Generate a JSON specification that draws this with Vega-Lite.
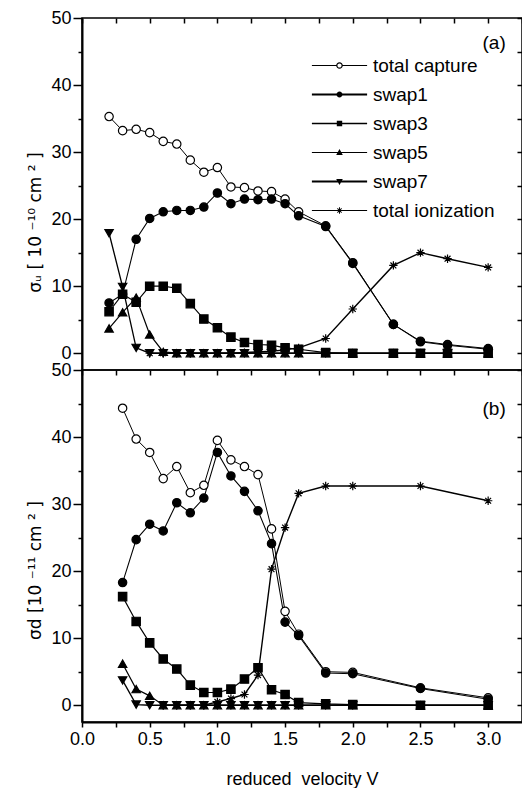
{
"$schema": "https://vega.github.io/schema/vega-lite/v6.json",
"autosize": {"type": "pad"},
"padding": {"left": 26, "top": 8, "right": 0, "bottom": 5},
"background": "white",
"spacing": 0,
"bounds": "flush",
"resolve": {"scale": {"shape": "independent"}, "legend": {"shape": "independent", "fill": "independent"}},
"config": {
  "font": "Liberation Sans",
  "view": {"stroke": "black", "strokeWidth": 1.5},
  "axis": {"labelFont": "Liberation Sans", "titleFont": "Liberation Sans", "labelFontSize": 18, "titleFontSize": 18, "titleFontWeight": "normal", "labelColor": "black", "titleColor": "black", "tickColor": "black", "domainColor": "black", "grid": false}
},
"datasets": {
"a": [
{"series":"total capture","v":0.2,"s":35.3},{"series":"total capture","v":0.3,"s":33.2},{"series":"total capture","v":0.4,"s":33.4},{"series":"total capture","v":0.5,"s":32.9},{"series":"total capture","v":0.6,"s":31.6},{"series":"total capture","v":0.7,"s":31.2},{"series":"total capture","v":0.8,"s":28.8},{"series":"total capture","v":0.9,"s":27.0},{"series":"total capture","v":1.0,"s":27.7},{"series":"total capture","v":1.1,"s":24.8},{"series":"total capture","v":1.2,"s":24.7},{"series":"total capture","v":1.3,"s":24.2},{"series":"total capture","v":1.4,"s":24.1},{"series":"total capture","v":1.5,"s":23.0},{"series":"total capture","v":1.6,"s":21.1},{"series":"total capture","v":1.8,"s":19.0},{"series":"total capture","v":2.0,"s":13.5},{"series":"total capture","v":2.3,"s":4.3},{"series":"total capture","v":2.5,"s":1.8},{"series":"total capture","v":2.7,"s":1.3},{"series":"total capture","v":3.0,"s":0.7},
{"series":"swap1","v":0.2,"s":7.5},{"series":"swap1","v":0.3,"s":8.8},{"series":"swap1","v":0.4,"s":17.0},{"series":"swap1","v":0.5,"s":20.1},{"series":"swap1","v":0.6,"s":21.1},{"series":"swap1","v":0.7,"s":21.3},{"series":"swap1","v":0.8,"s":21.3},{"series":"swap1","v":0.9,"s":21.8},{"series":"swap1","v":1.0,"s":23.9},{"series":"swap1","v":1.1,"s":22.3},{"series":"swap1","v":1.2,"s":23.0},{"series":"swap1","v":1.3,"s":22.9},{"series":"swap1","v":1.4,"s":23.0},{"series":"swap1","v":1.5,"s":22.3},{"series":"swap1","v":1.6,"s":20.5},{"series":"swap1","v":1.8,"s":18.9},{"series":"swap1","v":2.0,"s":13.4},{"series":"swap1","v":2.3,"s":4.3},{"series":"swap1","v":2.5,"s":1.7},{"series":"swap1","v":2.7,"s":1.2},{"series":"swap1","v":3.0,"s":0.6},
{"series":"swap3","v":0.2,"s":6.2},{"series":"swap3","v":0.3,"s":8.8},{"series":"swap3","v":0.4,"s":7.6},{"series":"swap3","v":0.5,"s":10.0},{"series":"swap3","v":0.6,"s":10.0},{"series":"swap3","v":0.7,"s":9.7},{"series":"swap3","v":0.8,"s":7.4},{"series":"swap3","v":0.9,"s":5.1},{"series":"swap3","v":1.0,"s":3.8},{"series":"swap3","v":1.1,"s":2.4},{"series":"swap3","v":1.2,"s":1.6},{"series":"swap3","v":1.3,"s":1.3},{"series":"swap3","v":1.4,"s":1.2},{"series":"swap3","v":1.5,"s":0.8},{"series":"swap3","v":1.6,"s":0.6},{"series":"swap3","v":1.8,"s":0.1},{"series":"swap3","v":2.0,"s":0},{"series":"swap3","v":2.3,"s":0},{"series":"swap3","v":2.5,"s":0},{"series":"swap3","v":2.7,"s":0},{"series":"swap3","v":3.0,"s":0},
{"series":"swap5","v":0.2,"s":3.7},{"series":"swap5","v":0.3,"s":6.1},{"series":"swap5","v":0.4,"s":8.3},{"series":"swap5","v":0.5,"s":2.8},{"series":"swap5","v":0.6,"s":0.2},{"series":"swap5","v":0.7,"s":0},{"series":"swap5","v":0.8,"s":0},{"series":"swap5","v":0.9,"s":0},{"series":"swap5","v":1.0,"s":0},{"series":"swap5","v":1.1,"s":0},{"series":"swap5","v":1.2,"s":0},{"series":"swap5","v":1.3,"s":0},{"series":"swap5","v":1.4,"s":0},{"series":"swap5","v":1.5,"s":0},{"series":"swap5","v":1.6,"s":0},{"series":"swap5","v":1.8,"s":0},{"series":"swap5","v":2.0,"s":0},{"series":"swap5","v":2.3,"s":0},{"series":"swap5","v":2.5,"s":0},{"series":"swap5","v":2.7,"s":0},{"series":"swap5","v":3.0,"s":0},
{"series":"swap7","v":0.2,"s":17.9},{"series":"swap7","v":0.3,"s":9.9},{"series":"swap7","v":0.4,"s":0.8},{"series":"swap7","v":0.5,"s":0},{"series":"swap7","v":0.6,"s":0},{"series":"swap7","v":0.7,"s":0},{"series":"swap7","v":0.8,"s":0},{"series":"swap7","v":0.9,"s":0},{"series":"swap7","v":1.0,"s":0},{"series":"swap7","v":1.1,"s":0},{"series":"swap7","v":1.2,"s":0},{"series":"swap7","v":1.3,"s":0},{"series":"swap7","v":1.4,"s":0},{"series":"swap7","v":1.5,"s":0},{"series":"swap7","v":1.6,"s":0},{"series":"swap7","v":1.8,"s":0},{"series":"swap7","v":2.0,"s":0},{"series":"swap7","v":2.3,"s":0},{"series":"swap7","v":2.5,"s":0},{"series":"swap7","v":2.7,"s":0},{"series":"swap7","v":3.0,"s":0},
{"series":"total ionization","v":0.5,"s":0},{"series":"total ionization","v":0.6,"s":0},{"series":"total ionization","v":0.7,"s":0},{"series":"total ionization","v":0.8,"s":0},{"series":"total ionization","v":0.9,"s":0},{"series":"total ionization","v":1.0,"s":0},{"series":"total ionization","v":1.1,"s":0},{"series":"total ionization","v":1.2,"s":0.1},{"series":"total ionization","v":1.3,"s":0.2},{"series":"total ionization","v":1.4,"s":0.3},{"series":"total ionization","v":1.5,"s":0.5},{"series":"total ionization","v":1.6,"s":0.8},{"series":"total ionization","v":1.8,"s":2.2},{"series":"total ionization","v":2.0,"s":6.6},{"series":"total ionization","v":2.3,"s":13.1},{"series":"total ionization","v":2.5,"s":15.0},{"series":"total ionization","v":2.7,"s":14.1},{"series":"total ionization","v":3.0,"s":12.8}
],
"b": [
{"series":"total capture","v":0.3,"s":44.3},{"series":"total capture","v":0.4,"s":39.7},{"series":"total capture","v":0.5,"s":37.7},{"series":"total capture","v":0.6,"s":33.8},{"series":"total capture","v":0.7,"s":35.6},{"series":"total capture","v":0.8,"s":31.7},{"series":"total capture","v":0.9,"s":32.8},{"series":"total capture","v":1.0,"s":39.5},{"series":"total capture","v":1.1,"s":36.6},{"series":"total capture","v":1.2,"s":35.6},{"series":"total capture","v":1.3,"s":34.4},{"series":"total capture","v":1.4,"s":26.3},{"series":"total capture","v":1.5,"s":14.0},{"series":"total capture","v":1.6,"s":10.6},{"series":"total capture","v":1.8,"s":5.0},{"series":"total capture","v":2.0,"s":4.9},{"series":"total capture","v":2.5,"s":2.6},{"series":"total capture","v":3.0,"s":1.1},
{"series":"swap1","v":0.3,"s":18.3},{"series":"swap1","v":0.4,"s":24.7},{"series":"swap1","v":0.5,"s":27.0},{"series":"swap1","v":0.6,"s":26.0},{"series":"swap1","v":0.7,"s":30.2},{"series":"swap1","v":0.8,"s":28.7},{"series":"swap1","v":0.9,"s":30.9},{"series":"swap1","v":1.0,"s":37.7},{"series":"swap1","v":1.1,"s":34.2},{"series":"swap1","v":1.2,"s":31.9},{"series":"swap1","v":1.3,"s":29.0},{"series":"swap1","v":1.4,"s":24.1},{"series":"swap1","v":1.5,"s":12.4},{"series":"swap1","v":1.6,"s":10.4},{"series":"swap1","v":1.8,"s":4.8},{"series":"swap1","v":2.0,"s":4.7},{"series":"swap1","v":2.5,"s":2.5},{"series":"swap1","v":3.0,"s":0.9},
{"series":"swap3","v":0.3,"s":16.2},{"series":"swap3","v":0.4,"s":12.5},{"series":"swap3","v":0.5,"s":9.3},{"series":"swap3","v":0.6,"s":6.9},{"series":"swap3","v":0.7,"s":5.4},{"series":"swap3","v":0.8,"s":3.0},{"series":"swap3","v":0.9,"s":1.9},{"series":"swap3","v":1.0,"s":1.9},{"series":"swap3","v":1.1,"s":2.4},{"series":"swap3","v":1.2,"s":3.9},{"series":"swap3","v":1.3,"s":5.6},{"series":"swap3","v":1.4,"s":2.3},{"series":"swap3","v":1.5,"s":1.6},{"series":"swap3","v":1.6,"s":0.4},{"series":"swap3","v":1.8,"s":0.2},{"series":"swap3","v":2.0,"s":0.1},{"series":"swap3","v":2.5,"s":0},{"series":"swap3","v":3.0,"s":0},
{"series":"swap5","v":0.3,"s":6.2},{"series":"swap5","v":0.4,"s":2.4},{"series":"swap5","v":0.5,"s":1.4},{"series":"swap5","v":0.6,"s":0},{"series":"swap5","v":0.7,"s":0},{"series":"swap5","v":0.8,"s":0},{"series":"swap5","v":0.9,"s":0},{"series":"swap5","v":1.0,"s":0},{"series":"swap5","v":1.1,"s":0},{"series":"swap5","v":1.2,"s":0},{"series":"swap5","v":1.3,"s":0},{"series":"swap5","v":1.4,"s":0},{"series":"swap5","v":1.5,"s":0},{"series":"swap5","v":1.6,"s":0},{"series":"swap5","v":1.8,"s":0},{"series":"swap5","v":2.0,"s":0},{"series":"swap5","v":2.5,"s":0},{"series":"swap5","v":3.0,"s":0},
{"series":"swap7","v":0.3,"s":3.7},{"series":"swap7","v":0.4,"s":0.1},{"series":"swap7","v":0.5,"s":0},{"series":"swap7","v":0.6,"s":0},{"series":"swap7","v":0.7,"s":0},{"series":"swap7","v":0.8,"s":0},{"series":"swap7","v":0.9,"s":0},{"series":"swap7","v":1.0,"s":0},{"series":"swap7","v":1.1,"s":0},{"series":"swap7","v":1.2,"s":0},{"series":"swap7","v":1.3,"s":0},{"series":"swap7","v":1.4,"s":0},{"series":"swap7","v":1.5,"s":0},{"series":"swap7","v":1.6,"s":0},{"series":"swap7","v":1.8,"s":0},{"series":"swap7","v":2.0,"s":0},{"series":"swap7","v":2.5,"s":0},{"series":"swap7","v":3.0,"s":0},
{"series":"total ionization","v":0.6,"s":0},{"series":"total ionization","v":0.7,"s":0},{"series":"total ionization","v":0.8,"s":0},{"series":"total ionization","v":0.9,"s":0},{"series":"total ionization","v":1.0,"s":0.5},{"series":"total ionization","v":1.1,"s":1.0},{"series":"total ionization","v":1.2,"s":1.6},{"series":"total ionization","v":1.3,"s":4.5},{"series":"total ionization","v":1.4,"s":20.3},{"series":"total ionization","v":1.5,"s":26.5},{"series":"total ionization","v":1.6,"s":31.6},{"series":"total ionization","v":1.8,"s":32.7},{"series":"total ionization","v":2.0,"s":32.7},{"series":"total ionization","v":2.5,"s":32.7},{"series":"total ionization","v":3.0,"s":30.5}
]
},
"vconcat": [
{
  "width": 440, "height": 352,
  "layer": [
    {
      "data": {"name": "a"},
      "mark": {"type": "line", "color": "black"},
      "encoding": {
        "x": {"field": "v", "type": "quantitative", "scale": {"domain": [0, 3.25], "nice": false, "zero": false}, "axis": null},
        "y": {"field": "s", "type": "quantitative", "scale": {"domain": [-2.5, 50], "nice": false, "zero": false},
              "axis": {"orient": "left", "values": [0,5,10,15,20,25,30,35,40,45,50], "labelExpr": "datum.value % 10 === 0 ? datum.label : ''", "tickSize": {"condition": {"test": "datum.value % 10 === 0", "value": 9}, "value": 4}, "tickWidth": 1.5, "labelPadding": 2, "domainWidth": 2, "title": "σᵤ [ 10 ⁻¹⁰ cm ² ]", "titleFont": "DejaVu Sans", "titleFontSize": 17, "titlePadding": 6, "titleY": 204}},
        "detail": {"field": "series"},
        "strokeWidth": {"field": "series", "type": "nominal", "scale": {"domain": ["total capture","swap1","swap3","swap5","swap7","total ionization"], "range": [1, 1.4, 1.2, 1, 1.3, 1]}, "legend": null}
      }
    },
    {
      "data": {"name": "a"},
      "mark": {"type": "point", "stroke": "black", "strokeWidth": 1.2, "size": 70, "opacity": 1},
      "encoding": {
        "x": {"field": "v", "type": "quantitative", "scale": {"domain": [0, 3.25], "nice": false, "zero": false}, "axis": null},
        "y": {"field": "s", "type": "quantitative", "scale": {"domain": [-2.5, 50], "nice": false, "zero": false}, "axis": null},
        "shape": {"field": "series", "type": "nominal", "scale": {"domain": ["total capture","swap1","swap3","swap5","swap7","total ionization"], "range": ["circle","circle","square","triangle-up","triangle-down","M-1,0H1M0,-1V1M-0.7,-0.7L0.7,0.7M-0.7,0.7L0.7,-0.7"]}, "legend": null},
        "fill": {"field": "series", "type": "nominal", "scale": {"domain": ["total capture","swap1","swap3","swap5","swap7","total ionization"], "range": ["white","black","black","black","black","black"]}, "legend": null}
      }
    },
    {
      "data": {"name": "a"},
      "mark": {"type": "point", "filled": true, "color": "black", "size": 36, "opacity": 0},
      "encoding": {
        "x": {"field": "v", "type": "quantitative", "scale": {"domain": [0, 3.25], "nice": false, "zero": false}, "axis": null},
        "y": {"field": "s", "type": "quantitative", "scale": {"domain": [-2.5, 50], "nice": false, "zero": false}, "axis": null},
        "shape": {"field": "series", "type": "nominal", "sort": null,
          "scale": {"domain": ["total capture","swap1","swap3","swap5","swap7","total ionization"],
                    "range": ["M-9.2,-0.17H-1.05V0.17H-9.2ZM1.05,-0.17H9.2V0.17H1.05ZM-1.1,0A1.1,1.1 0 1,1 1.1,0A1.1,1.1 0 1,1 -1.1,0ZM-0.7,0A0.7,0.7 0 1,0 0.7,0A0.7,0.7 0 1,0 -0.7,0Z",
                              "M-9.2,-0.3H9.2V0.3H-9.2ZM-1,0A1,1 0 1,1 1,0A1,1 0 1,1 -1,0Z",
                              "M-9.2,-0.22H9.2V0.22H-9.2ZM-0.9,-0.9H0.9V0.9H-0.9Z",
                              "M-9.2,-0.17H9.2V0.17H-9.2ZM0,-1.15L1.1,0.85H-1.1Z",
                              "M-9.2,-0.3H9.2V0.3H-9.2ZM0,1.15L-1.1,-0.85H1.1Z",
                              "M-9.2,-0.17H9.2V0.17H-9.2ZM-0.16,-1.1H0.16V1.1H-0.16ZM-0.601,-0.813L0.813,0.601L0.601,0.813L-0.813,-0.601ZM-0.813,0.601L0.601,-0.813L0.813,-0.601L-0.601,0.813Z"]},
          "legend": {"orient": "none", "legendX": 248, "legendY": 38, "title": null, "padding": 0, "symbolSize": 36, "symbolOpacity": 1, "symbolFillColor": "black", "symbolStrokeColor": "black", "symbolStrokeWidth": 0, "labelFontSize": 19, "labelFont": "Liberation Sans", "labelColor": "black", "labelOffset": 24, "rowPadding": 9,
            "labelExpr": "datum.value === 'total ionization' ? '\u00a0total ionization' : datum.label"}}
      }
    },
    {
      "data": {"values": [{"label": "(a)"}]},
      "mark": {"type": "text", "fontSize": 19, "font": "Liberation Sans", "align": "right", "baseline": "middle", "color": "black"},
      "encoding": {
        "x": {"datum": 3.13, "type": "quantitative", "scale": {"domain": [0, 3.25], "nice": false, "zero": false}, "axis": null},
        "y": {"datum": 46.3, "type": "quantitative", "scale": {"domain": [-2.5, 50], "nice": false, "zero": false}, "axis": null},
        "text": {"field": "label"}
      }
    },
    {
      "data": {"values": [{"label": ""}]},
      "mark": {"type": "point", "opacity": 0},
      "encoding": {
        "x": {"datum": 1, "type": "quantitative", "scale": {"domain": [0, 3.25], "nice": false, "zero": false},
              "axis": {"orient": "top", "values": [0,0.25,0.5,0.75,1,1.25,1.5,1.75,2,2.25,2.5,2.75,3,3.25], "labels": false, "tickSize": -5, "tickWidth": 1.5, "domain": false, "title": null}},
        "y": {"datum": 10, "type": "quantitative", "scale": {"domain": [-2.5, 50], "nice": false, "zero": false},
              "axis": {"orient": "right", "values": [0,5,10,15,20,25,30,35,40,45,50], "labels": false, "tickSize": -5, "tickWidth": 1.5, "domain": false, "title": null}}
      }
    }
  ],
  "resolve": {"axis": {"x": "independent", "y": "independent"}, "scale": {"shape": "independent"}, "legend": {"shape": "independent"}}
},
{
  "width": 440, "height": 352,
  "layer": [
    {
      "data": {"name": "b"},
      "mark": {"type": "line", "color": "black"},
      "encoding": {
        "x": {"field": "v", "type": "quantitative", "scale": {"domain": [0, 3.25], "nice": false, "zero": false},
              "axis": {"orient": "bottom", "values": [0,0.25,0.5,0.75,1,1.25,1.5,1.75,2,2.25,2.5,2.75,3], "labelExpr": "(datum.value*2) % 1 === 0 ? format(datum.value, '.1f') : ''", "labelFlush": false, "tickSize": 5, "tickWidth": 1.5, "labelPadding": 3, "domainWidth": 2, "title": "reduced\u00a0 velocity V", "titlePadding": 22}},
        "y": {"field": "s", "type": "quantitative", "scale": {"domain": [-2.5, 50], "nice": false, "zero": false},
              "axis": {"orient": "left", "values": [0,5,10,15,20,25,30,35,40,45,50], "labelExpr": "datum.value % 10 === 0 ? datum.label : ''", "tickSize": {"condition": {"test": "datum.value % 10 === 0", "value": 9}, "value": 4}, "tickWidth": 1.5, "labelPadding": 2, "domainWidth": 2, "title": "σd [10 ⁻¹¹ cm ² ]", "titleFont": "DejaVu Sans", "titleFontSize": 17, "titlePadding": 6, "titleY": 200}},
        "detail": {"field": "series"},
        "strokeWidth": {"field": "series", "type": "nominal", "scale": {"domain": ["total capture","swap1","swap3","swap5","swap7","total ionization"], "range": [1, 1.4, 1.2, 1, 1.3, 1]}, "legend": null}
      }
    },
    {
      "data": {"name": "b"},
      "mark": {"type": "point", "stroke": "black", "strokeWidth": 1.2, "size": 70, "opacity": 1},
      "encoding": {
        "x": {"field": "v", "type": "quantitative", "scale": {"domain": [0, 3.25], "nice": false, "zero": false}, "axis": null},
        "y": {"field": "s", "type": "quantitative", "scale": {"domain": [-2.5, 50], "nice": false, "zero": false}, "axis": null},
        "shape": {"field": "series", "type": "nominal", "scale": {"domain": ["total capture","swap1","swap3","swap5","swap7","total ionization"], "range": ["circle","circle","square","triangle-up","triangle-down","M-1,0H1M0,-1V1M-0.7,-0.7L0.7,0.7M-0.7,0.7L0.7,-0.7"]}, "legend": null},
        "fill": {"field": "series", "type": "nominal", "scale": {"domain": ["total capture","swap1","swap3","swap5","swap7","total ionization"], "range": ["white","black","black","black","black","black"]}, "legend": null}
      }
    },
    {
      "data": {"values": [{"label": "(b)"}]},
      "mark": {"type": "text", "fontSize": 19, "font": "Liberation Sans", "align": "right", "baseline": "middle", "color": "black"},
      "encoding": {
        "x": {"datum": 3.13, "type": "quantitative", "scale": {"domain": [0, 3.25], "nice": false, "zero": false}, "axis": null},
        "y": {"datum": 44.2, "type": "quantitative", "scale": {"domain": [-2.5, 50], "nice": false, "zero": false}, "axis": null},
        "text": {"field": "label"}
      }
    },
    {
      "data": {"values": [{"label": ""}]},
      "mark": {"type": "point", "opacity": 0},
      "encoding": {
        "x": {"datum": 1, "type": "quantitative", "scale": {"domain": [0, 3.25], "nice": false, "zero": false},
              "axis": {"orient": "top", "values": [0,0.25,0.5,0.75,1,1.25,1.5,1.75,2,2.25,2.5,2.75,3,3.25], "labels": false, "tickSize": -5, "tickWidth": 1.5, "domain": false, "title": null}},
        "y": {"datum": 10, "type": "quantitative", "scale": {"domain": [-2.5, 50], "nice": false, "zero": false},
              "axis": {"orient": "right", "values": [0,5,10,15,20,25,30,35,40,45,50], "labels": false, "tickSize": -5, "tickWidth": 1.5, "domain": false, "title": null}}
      }
    }
  ],
  "resolve": {"axis": {"x": "independent", "y": "independent"}}
}
]
}
